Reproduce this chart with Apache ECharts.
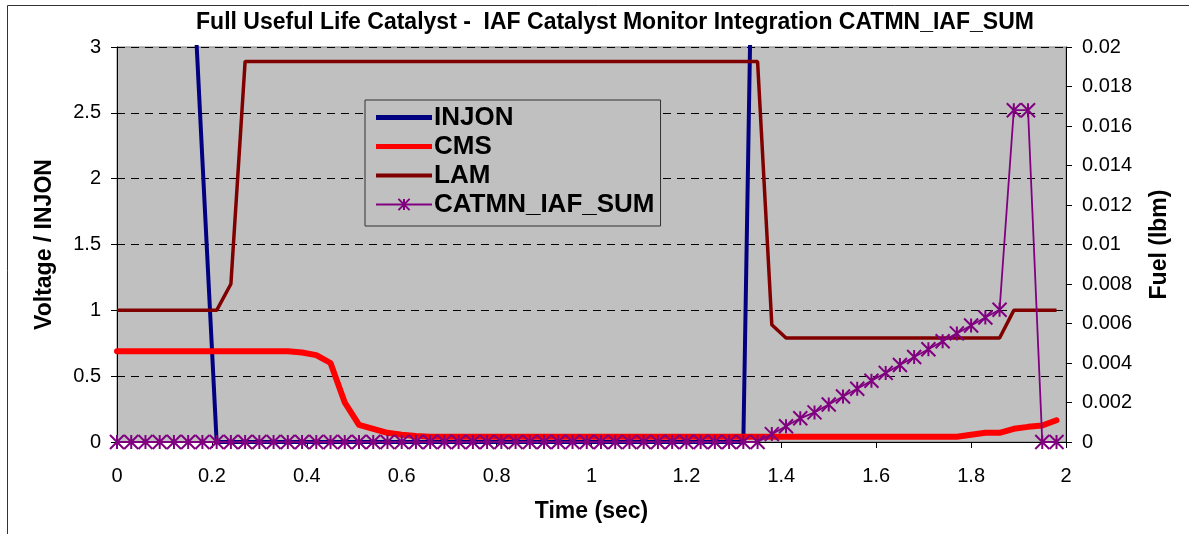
<!DOCTYPE html>
<html>
<head>
<meta charset="utf-8">
<script src="https://cdn.jsdelivr.net/npm/echarts@6/dist/echarts.min.js"></script>
<style>
  html, body { margin: 0; padding: 0; background: #fff; }
  #chart { width: 1189px; height: 534px; }
</style>
</head>
<body>
<div id="chart"></div>
<script>
// time axis (sec)
var timeData = [0, 0.03, 0.06, 0.09, 0.12, 0.15, 0.18, 0.21, 0.24, 0.27,
  0.3, 0.33, 0.36, 0.39, 0.42, 0.45, 0.48, 0.51, 0.54, 0.57,
  0.6, 0.63, 0.66, 0.69, 0.72, 0.75, 0.78, 0.81, 0.84, 0.87,
  0.9, 0.93, 0.96, 0.99, 1.02, 1.05, 1.08, 1.11, 1.14, 1.17,
  1.2, 1.23, 1.26, 1.29, 1.32, 1.35, 1.38, 1.41, 1.44, 1.47,
  1.5, 1.53, 1.56, 1.59, 1.62, 1.65, 1.68, 1.71, 1.74, 1.77,
  1.8, 1.83, 1.86, 1.89, 1.92, 1.95, 1.98];

// Voltage / INJON (left axis)
var injonData = [4.3, 4.3, 4.3, 4.3, 4.3, 4.3, 2.14, 0, 0, 0,
  0, 0, 0, 0, 0, 0, 0, 0, 0, 0,
  0, 0, 0, 0, 0, 0, 0, 0, 0, 0,
  0, 0, 0, 0, 0, 0, 0, 0, 0, 0,
  0, 0, 0, 0, 0, 6.4, 6.4, 6.4, 6.4, 6.4,
  6.4, 6.4, 6.4, 6.4, 6.4, 6.4, 6.4, 6.4, 6.4, 6.4,
  6.4, 6.4, 6.4, 6.4, 6.4, 6.4, 6.4];

var cmsData = [0.69, 0.69, 0.69, 0.69, 0.69, 0.69, 0.69, 0.69, 0.69, 0.69,
  0.69, 0.69, 0.69, 0.68, 0.66, 0.60, 0.30, 0.13, 0.10, 0.07,
  0.055, 0.045, 0.04, 0.04, 0.04, 0.04, 0.04, 0.04, 0.04, 0.04,
  0.04, 0.04, 0.04, 0.04, 0.04, 0.04, 0.04, 0.04, 0.04, 0.04,
  0.04, 0.04, 0.04, 0.04, 0.04, 0.04, 0.04, 0.04, 0.04, 0.04,
  0.04, 0.04, 0.04, 0.04, 0.04, 0.04, 0.04, 0.04, 0.04, 0.04,
  0.055, 0.07, 0.07, 0.10, 0.115, 0.125, 0.165];

var lamData = [1, 1, 1, 1, 1, 1, 1, 1, 1.2, 2.89,
  2.89, 2.89, 2.89, 2.89, 2.89, 2.89, 2.89, 2.89, 2.89, 2.89,
  2.89, 2.89, 2.89, 2.89, 2.89, 2.89, 2.89, 2.89, 2.89, 2.89,
  2.89, 2.89, 2.89, 2.89, 2.89, 2.89, 2.89, 2.89, 2.89, 2.89,
  2.89, 2.89, 2.89, 2.89, 2.89, 2.89, 0.89, 0.79, 0.79, 0.79,
  0.79, 0.79, 0.79, 0.79, 0.79, 0.79, 0.79, 0.79, 0.79, 0.79,
  0.79, 0.79, 0.79, 1, 1, 1, 1];

// Fuel (lbm) (right axis)
var catmnData = [0, 0, 0, 0, 0, 0, 0, 0, 0, 0,
  0, 0, 0, 0, 0, 0, 0, 0, 0, 0,
  0, 0, 0, 0, 0, 0, 0, 0, 0, 0,
  0, 0, 0, 0, 0, 0, 0, 0, 0, 0,
  0, 0, 0, 0, 0, 0, 0.0004, 0.0008, 0.0012, 0.0015,
  0.0019, 0.0023, 0.0027, 0.0031, 0.0035, 0.0039, 0.0043, 0.0047, 0.0051, 0.0055,
  0.0059, 0.0063, 0.0067, 0.0168, 0.0168, 0, 0];

var seriesNames = ['INJON', 'CMS', 'LAM', 'CATMN_IAF_SUM'];

function pairs(ys) {
  var out = [];
  for (var i = 0; i < ys.length; i++) {
    out.push([timeData[i], ys[i]]);
  }
  return out;
}

var chart = echarts.init(document.getElementById('chart'));
var font = 'Liberation Sans, Arial, sans-serif';
var asterisk = 'path://M0,0L10,10M10,0L0,10M5,0L5,10';
// legend line icons (aspect kept, so height = line thickness)
var thickLine = 'path://M0,0L56,0L56,5L0,5Z';
var midLine = 'path://M0,0L56,0L56,4L0,4Z';

var option = {
  backgroundColor: '#fff',
  animation: false,
  textStyle: { fontFamily: font },
  title: {
    text: 'Full Useful Life Catalyst -  IAF Catalyst Monitor Integration CATMN_IAF_SUM',
    left: 610,
    textAlign: 'center',
    top: 6,
    textStyle: { fontSize: 23, fontWeight: 'bold', color: '#000', fontFamily: font }
  },
  graphic: [{
    type: 'rect',
    shape: { x: 7.5, y: 5.5, width: 1200, height: 560 },
    style: { fill: 'none', stroke: '#333', lineWidth: 1 },
    silent: true,
    z: -1
  }],
  grid: {
    left: 117, right: 123, top: 47, bottom: 92,
    show: true,
    backgroundColor: '#C0C0C0',
    borderColor: '#808080',
    borderWidth: 1
  },
  legend: {
    orient: 'vertical',
    left: 365,
    top: 100,
    padding: [4, 6, 8, 10],
    itemWidth: 56,
    itemHeight: 14,
    itemGap: 2,
    borderColor: '#333',
    borderWidth: 1,
    backgroundColor: '#C0C0C0',
    data: [
      { name: 'INJON', icon: thickLine },
      { name: 'CMS', icon: thickLine },
      { name: 'LAM', icon: midLine },
      { name: 'CATMN_IAF_SUM' }
    ],
    textStyle: { fontSize: 26, lineHeight: 27, fontWeight: 'bold', color: '#000', fontFamily: font, padding: [0, 0, 0, -3] }
  },
  xAxis: {
    type: 'value',
    min: 0,
    max: 2,
    interval: 0.2,
    name: 'Time (sec)',
    nameLocation: 'middle',
    nameGap: 58,
    nameTextStyle: { fontSize: 23, fontWeight: 'bold', color: '#000' },
    axisLine: { onZero: false, lineStyle: { color: '#000', width: 1 } },
    axisTick: { show: true, length: 6, lineStyle: { color: '#000' } },
    axisLabel: { fontSize: 20, color: '#000', margin: 24 },
    splitLine: { show: false }
  },
  yAxis: [{
    type: 'value',
    min: 0,
    max: 3,
    interval: 0.5,
    name: 'Voltage / INJON',
    nameLocation: 'middle',
    nameRotate: 90,
    nameGap: 61,
    nameTextStyle: { fontSize: 23, fontWeight: 'bold', color: '#000' },
    axisLine: { show: true, lineStyle: { color: '#000', width: 1 } },
    axisTick: { show: true, length: 6, lineStyle: { color: '#000' } },
    axisLabel: { fontSize: 20, color: '#000', margin: 16 },
    splitLine: { show: true, lineStyle: { color: '#000', type: [8, 6], width: 1 } }
  }, {
    type: 'value',
    min: 0,
    max: 0.02,
    interval: 0.002,
    position: 'right',
    name: 'Fuel (lbm)',
    nameLocation: 'middle',
    nameRotate: 90,
    nameGap: 82,
    nameTextStyle: { fontSize: 23, fontWeight: 'bold', color: '#000' },
    axisLine: { show: true, lineStyle: { color: '#000', width: 1 } },
    axisTick: { show: true, length: 6, lineStyle: { color: '#000' } },
    axisLabel: { fontSize: 20, color: '#000', margin: 16 },
    splitLine: { show: false }
  }],
  series: [{
    name: 'INJON',
    type: 'line',
    yAxisIndex: 0,
    data: pairs(injonData),
    symbol: 'none',
    color: '#000080',
    lineStyle: { color: '#000080', width: 4 },
    clip: true
  }, {
    name: 'CMS',
    type: 'line',
    yAxisIndex: 0,
    data: pairs(cmsData),
    symbol: 'none',
    color: '#FF0000',
    lineStyle: { color: '#FF0000', width: 6, join: 'round', cap: 'round' },
    clip: true
  }, {
    name: 'LAM',
    type: 'line',
    yAxisIndex: 0,
    data: pairs(lamData),
    symbol: 'none',
    color: '#800000',
    lineStyle: { color: '#800000', width: 3.5 },
    clip: true
  }, {
    name: 'CATMN_IAF_SUM',
    type: 'line',
    yAxisIndex: 1,
    data: pairs(catmnData),
    symbol: asterisk,
    symbolSize: 14,
    showAllSymbol: true,
    color: '#800080',
    itemStyle: { color: '#800080', borderColor: '#800080', borderWidth: 2 },
    lineStyle: { color: '#800080', width: 1.8 },
    clip: false,
    z: 5
  }]
};

chart.setOption(option);
</script>
</body>
</html>
